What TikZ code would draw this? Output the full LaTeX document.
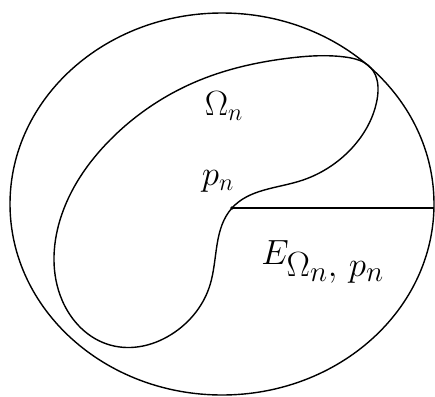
\documentclass[tikz,border=0pt]{standalone}
\usepackage{amsmath}
\usepackage{tikz}
\usetikzlibrary{calc, hobby}

\begin{document}
\begin{tikzpicture}[x=0.025cm, y=-0.025cm, line width=1pt,
  lbl/.style={inner sep=0pt, font=\fontsize{24}{28}\selectfont}]
  \useasboundingbox (0,0) rectangle (435,396);
  % the disc
  \draw (222,204) ellipse [x radius=212, y radius=191];
  \coordinate (pn) at (232,208);
  \coordinate (rim) at (434,208);
  % the region Omega_n
  \draw[use Hobby shortcut, closed=true] (pn) .. (300,181) .. (352,148)
    .. (377,100) .. (371,68) .. (345,57) .. (290,58) .. (200,80)
    .. (110,140) .. (60,220) .. (62,300) .. (110,345) .. (175,332)
    .. (210,285);
  \fill (pn) circle (1.8);
  \draw[line width=0.8pt] (pn) -- (rim);
  \node[lbl] (omega) at (224,106) {$\Omega_n$};
  \node[lbl] (plabel) at (218,181) {$p_n$};
  \node[lbl, font=\fontsize{30}{34}\selectfont] (E) at (323,262) {$E_{\textstyle\Omega_n,\,p_n}$};
\end{tikzpicture}
\end{document}
